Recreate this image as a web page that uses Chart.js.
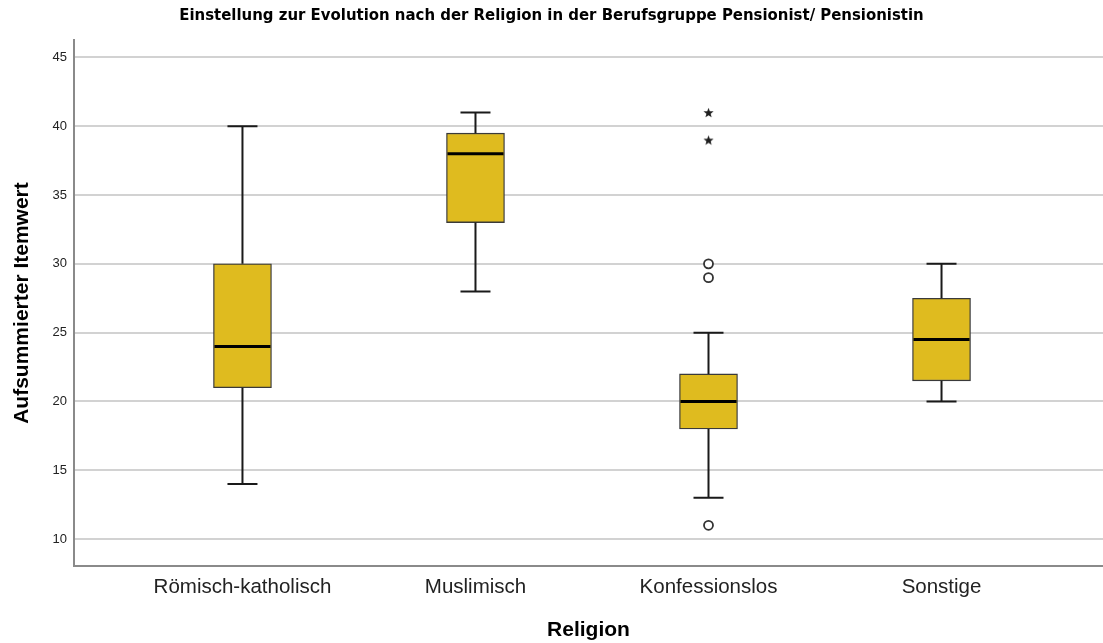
<!DOCTYPE html>
<html lang="de">
<head>
<meta charset="utf-8">
<title>Einstellung zur Evolution nach der Religion</title>
<script src="https://cdn.jsdelivr.net/npm/chart.js@4/dist/chart.umd.min.js"></script>
<style>
  html, body { margin: 0; padding: 0; background: #ffffff; }
  #wrap { width: 1103px; height: 643px; position: relative; }
</style>
</head>
<body>
<div id="wrap"><canvas id="chart" width="1103" height="643"></canvas></div>
<script>
// Religion groups (x categories)
const religions = ['Römisch-katholisch', 'Muslimisch', 'Konfessionslos', 'Sonstige'];

// Box plot statistics per group
const whiskerLow  = [14, 28, 13, 20];
const quartile1   = [21, 33, 18, 21.5];
const median      = [24, 38, 20, 24.5];
const quartile3   = [30, 39.5, 22, 27.5];
const whiskerHigh = [40, 41, 25, 30];

// Outliers (circles) and extreme values (stars): group index + value
const outlierGroup = [2, 2, 2];
const outlierValue = [30, 29, 11];
const extremeGroup = [2, 2];
const extremeValue = [41, 39];

// Axis ticks
const yTickValues = [10, 15, 20, 25, 30, 35, 40, 45];

const BOX_FILL = '#dfbb1f';
const BOX_EDGE = '#3a3a3a';
const BOX_WIDTH = 58;
const CAP_WIDTH = 30;

// Filled five-pointed star used for extreme values
function makeStar(size, color) {
  const c = document.createElement('canvas');
  c.width = size; c.height = size;
  const g = c.getContext('2d');
  const cx = size / 2, cy = size / 2 + 0.5;
  const outer = size / 2 - 0.2, inner = outer * 0.42;
  g.beginPath();
  for (let k = 0; k < 10; k++) {
    const r = k % 2 === 0 ? outer : inner;
    const a = -Math.PI / 2 + k * Math.PI / 5;
    const px = cx + r * Math.cos(a), py = cy + r * Math.sin(a);
    if (k === 0) g.moveTo(px, py); else g.lineTo(px, py);
  }
  g.closePath();
  g.fillStyle = color;
  g.fill();
  return c;
}

// Whiskers, caps and median lines drawn against the chart's scales
const boxWhiskers = {
  id: 'boxWhiskers',
  afterDatasetsDraw(chart) {
    const { ctx, scales: { x, y } } = chart;
    ctx.save();
    ctx.lineCap = 'butt';
    for (let i = 0; i < religions.length; i++) {
      const px = x.getPixelForValue(i);
      ctx.strokeStyle = '#1a1a1a';
      ctx.lineWidth = 2;
      ctx.beginPath();
      ctx.moveTo(px, y.getPixelForValue(whiskerHigh[i]));
      ctx.lineTo(px, y.getPixelForValue(quartile3[i]));
      ctx.moveTo(px, y.getPixelForValue(quartile1[i]));
      ctx.lineTo(px, y.getPixelForValue(whiskerLow[i]));
      ctx.moveTo(px - CAP_WIDTH / 2, y.getPixelForValue(whiskerHigh[i]));
      ctx.lineTo(px + CAP_WIDTH / 2, y.getPixelForValue(whiskerHigh[i]));
      ctx.moveTo(px - CAP_WIDTH / 2, y.getPixelForValue(whiskerLow[i]));
      ctx.lineTo(px + CAP_WIDTH / 2, y.getPixelForValue(whiskerLow[i]));
      ctx.stroke();
      ctx.strokeStyle = '#000000';
      ctx.lineWidth = 3;
      ctx.beginPath();
      ctx.moveTo(px - BOX_WIDTH / 2 + 1, y.getPixelForValue(median[i]));
      ctx.lineTo(px + BOX_WIDTH / 2 - 1, y.getPixelForValue(median[i]));
      ctx.stroke();
    }
    ctx.restore();
  }
};

const boxData = religions.map((_, i) => ({ x: i, y: [quartile1[i], quartile3[i]] }));
const outlierData = outlierGroup.map((g, i) => ({ x: g, y: outlierValue[i] }));
const extremeData = extremeGroup.map((g, i) => ({ x: g, y: extremeValue[i] }));

const sans = "'Liberation Sans', Arial, sans-serif";

new Chart(document.getElementById('chart'), {
  type: 'bar',
  data: {
    datasets: [
      {
        type: 'bar',
        data: boxData,
        backgroundColor: BOX_FILL,
        borderColor: BOX_EDGE,
        borderWidth: 1.3,
        borderSkipped: false,
        barThickness: BOX_WIDTH,
        order: 2
      },
      {
        type: 'scatter',
        data: outlierData,
        pointStyle: 'circle',
        pointRadius: 4.5,
        pointBorderWidth: 1.8,
        pointBorderColor: '#333333',
        pointBackgroundColor: '#ffffff',
        order: 1
      },
      {
        type: 'scatter',
        data: extremeData,
        pointStyle: makeStar(11, '#1e1e1e'),
        order: 1
      }
    ]
  },
  options: {
    responsive: false,
    animation: false,
    events: [],
    layout: { padding: 0, autoPadding: false },
    plugins: {
      legend: { display: false },
      tooltip: { enabled: false },
      title: {
        display: true,
        text: 'Einstellung zur Evolution nach der Religion in der Berufsgruppe Pensionist/ Pensionistin',
        color: '#000000',
        font: { family: "'DejaVu Sans Condensed', 'Liberation Sans', sans-serif", size: 16.6, weight: 'bold' },
        padding: { top: 6, bottom: 14.1 }
      }
    },
    scales: {
      x: {
        type: 'linear',
        offset: false,
        min: -0.723,
        max: 3.693,
        afterBuildTicks(scale) { scale.ticks = religions.map((_, i) => ({ value: i })); },
        afterFit(scale) { scale.height = 77; },
        grid: { display: false, drawTicks: false, offset: false },
        border: { display: true, color: '#8a8a8a', width: 2 },
        ticks: {
          autoSkip: false,
          maxRotation: 0,
          padding: 9,
          color: '#222222',
          font: { family: sans, size: 20.5 },
          callback: (v) => religions[v]
        },
        title: {
          display: true,
          text: 'Religion',
          color: '#000000',
          font: { family: sans, size: 21, weight: 'bold' },
          padding: { top: 0, bottom: 0 }
        }
      },
      y: {
        type: 'linear',
        min: 8.04,
        max: 46.27,
        afterBuildTicks(scale) { scale.ticks = yTickValues.map(v => ({ value: v })); },
        afterFit(scale) { scale.width = 74; },
        grid: { display: true, drawTicks: false, color: '#d2d2d2', lineWidth: 2 },
        border: { display: true, color: '#8a8a8a', width: 2 },
        ticks: {
          padding: 7,
          color: '#222222',
          font: { family: sans, size: 13 }
        },
        title: {
          display: true,
          text: 'Aufsummierter Itemwert',
          color: '#000000',
          font: { family: sans, size: 21, weight: 'bold' },
          padding: { top: 10, bottom: 0 }
        }
      }
    }
  },
  plugins: [boxWhiskers]
});
</script>
</body>
</html>
